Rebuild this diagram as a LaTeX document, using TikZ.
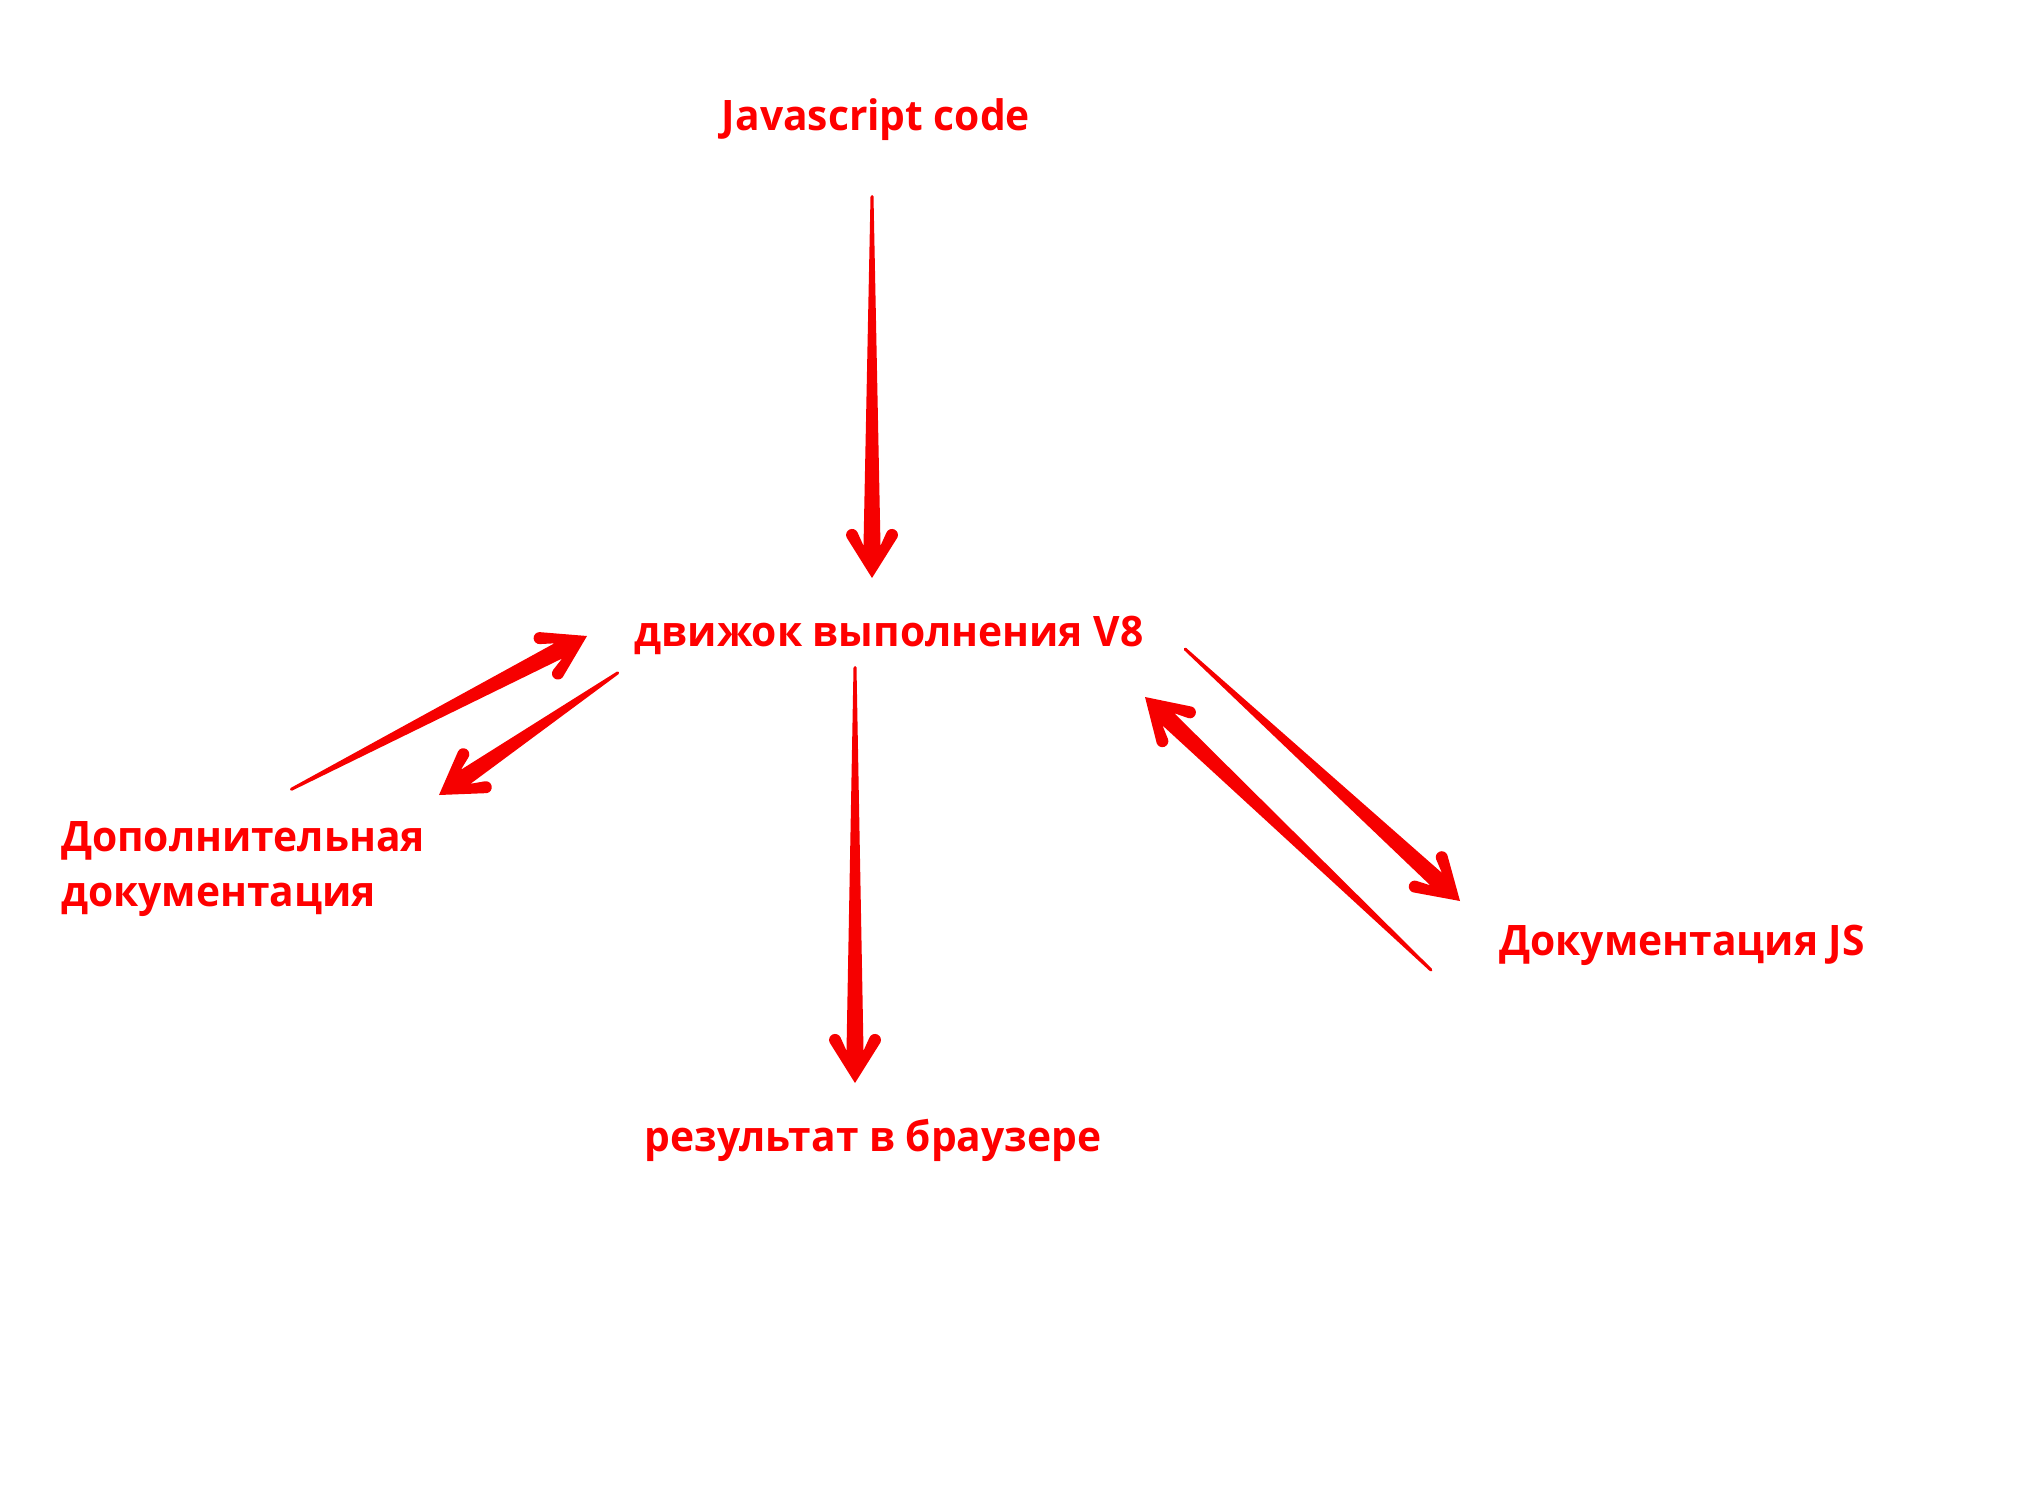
\documentclass[tikz,border=0pt]{standalone}
\usepackage{fontspec}
\setmainfont{Open Sans}
\newfontfamily\skfont{Open Sans}[FakeStretch=0.97]
\usetikzlibrary{calc}
\definecolor{skred}{RGB}{255,0,0}
\definecolor{arrred}{RGB}{246,0,0}
\tikzset{
  lbl/.style={inner sep=0pt, outer sep=0pt, text=skred, font=\skfont\fontsize{42}{55}\selectfont\bfseries},
  arrowfill/.style={fill=arrred}
}
% #1 tail coordinate, #2 tip coordinate
\newcommand\skarrow[2]{%
  \path let \p1=(#2), \p2=(#1), \n1={atan2(\y2-\y1,\x2-\x1)}, \n2={veclen(\x2-\x1,\y2-\y1)} in
    \pgfextra{\xdef\skang{\n1}\xdef\sklen{\n2}};
  \begin{scope}[shift={(#2)}, rotate=\skang]
    \fill[arrowfill] (0,0) -- (40.5,25.4) arc[start angle=115, end angle=-65, radius=6]
      -- (32.3,8.5) -- (\sklen-1.5,1.5) arc[start angle=90, end angle=-90, radius=1.5]
      -- (32.3,-8.5) -- (45.6,-14.5) arc[start angle=65, end angle=-115, radius=6] -- cycle;
  \end{scope}}
\begin{document}
\begin{tikzpicture}[x=1pt, y=-1pt]
\useasboundingbox (0,0) rectangle (2040,1494);
\node[lbl, anchor=base] (js) at (876,130) {Javascript code};
\node[lbl, anchor=base] (v8) at (889,646) {движок выполнения V8};
\node[lbl, anchor=base] (res) at (873,1151) {результат в браузере};
\node[lbl, anchor=north west, align=left] (doc) at (61,822) {Дополнительная\\документация};
\node[lbl, anchor=base] (docjs) at (1682,955) {Документация JS};
% arrow end points
\coordinate (a1s) at (872,195);  \coordinate (a1e) at (872,578);
\coordinate (a2s) at (855,666);  \coordinate (a2e) at (855,1083);
\coordinate (a3s) at (290,790);  \coordinate (a3e) at (587,636);
\coordinate (a4s) at (619,672);  \coordinate (a4e) at (439,795);
\coordinate (a5s) at (1184,648); \coordinate (a5e) at (1460,901);
\coordinate (a6s) at (1432,971); \coordinate (a6e) at (1145,697);
\skarrow{a1s}{a1e}
\skarrow{a2s}{a2e}
\skarrow{a3s}{a3e}
\skarrow{a4s}{a4e}
\skarrow{a5s}{a5e}
\skarrow{a6s}{a6e}
\end{tikzpicture}
\end{document}
